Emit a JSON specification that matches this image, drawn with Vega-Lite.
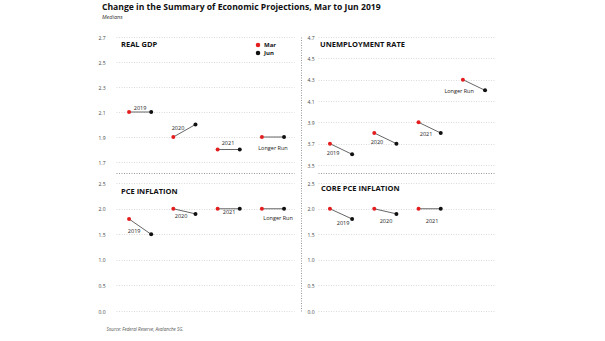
{
  "$schema": "https://vega.github.io/schema/vega-lite/v6.json",
  "padding": {"left": 97, "top": 2, "right": 5, "bottom": 5},
  "background": "white",
  "title": {
    "text": "Change in the Summary of Economic Projections, Mar to Jun 2019",
    "subtitle": "Medians",
    "anchor": "start",
    "frame": "bounds",
    "dx": 4,
    "fontSize": 8.6,
    "fontWeight": "bold",
    "color": "#111",
    "subtitleFontSize": 5.5,
    "subtitleFontStyle": "italic",
    "subtitleColor": "#333",
    "subtitlePadding": 3,
    "offset": 15
  },
  "datasets": {
    "points": [
      {"panel": "gdp", "year": "2019", "meeting": "Mar", "x": 1, "value": 2.1},
      {"panel": "gdp", "year": "2019", "meeting": "Jun", "x": 2, "value": 2.1},
      {"panel": "gdp", "year": "2020", "meeting": "Mar", "x": 3, "value": 1.9},
      {"panel": "gdp", "year": "2020", "meeting": "Jun", "x": 4, "value": 2.0},
      {"panel": "gdp", "year": "2021", "meeting": "Mar", "x": 5, "value": 1.8},
      {"panel": "gdp", "year": "2021", "meeting": "Jun", "x": 6, "value": 1.8},
      {"panel": "gdp", "year": "Longer Run", "meeting": "Mar", "x": 7, "value": 1.9},
      {"panel": "gdp", "year": "Longer Run", "meeting": "Jun", "x": 8, "value": 1.9},
      {"panel": "unemp", "year": "2019", "meeting": "Mar", "x": 1, "value": 3.7},
      {"panel": "unemp", "year": "2019", "meeting": "Jun", "x": 2, "value": 3.6},
      {"panel": "unemp", "year": "2020", "meeting": "Mar", "x": 3, "value": 3.8},
      {"panel": "unemp", "year": "2020", "meeting": "Jun", "x": 4, "value": 3.7},
      {"panel": "unemp", "year": "2021", "meeting": "Mar", "x": 5, "value": 3.9},
      {"panel": "unemp", "year": "2021", "meeting": "Jun", "x": 6, "value": 3.8},
      {"panel": "unemp", "year": "Longer Run", "meeting": "Mar", "x": 7, "value": 4.3},
      {"panel": "unemp", "year": "Longer Run", "meeting": "Jun", "x": 8, "value": 4.2},
      {"panel": "pce", "year": "2019", "meeting": "Mar", "x": 1, "value": 1.8},
      {"panel": "pce", "year": "2019", "meeting": "Jun", "x": 2, "value": 1.5},
      {"panel": "pce", "year": "2020", "meeting": "Mar", "x": 3, "value": 2.0},
      {"panel": "pce", "year": "2020", "meeting": "Jun", "x": 4, "value": 1.9},
      {"panel": "pce", "year": "2021", "meeting": "Mar", "x": 5, "value": 2.0},
      {"panel": "pce", "year": "2021", "meeting": "Jun", "x": 6, "value": 2.0},
      {"panel": "pce", "year": "Longer Run", "meeting": "Mar", "x": 7, "value": 2.0},
      {"panel": "pce", "year": "Longer Run", "meeting": "Jun", "x": 8, "value": 2.0},
      {"panel": "core", "year": "2019", "meeting": "Mar", "x": 1, "value": 2.0},
      {"panel": "core", "year": "2019", "meeting": "Jun", "x": 2, "value": 1.8},
      {"panel": "core", "year": "2020", "meeting": "Mar", "x": 3, "value": 2.0},
      {"panel": "core", "year": "2020", "meeting": "Jun", "x": 4, "value": 1.9},
      {"panel": "core", "year": "2021", "meeting": "Mar", "x": 5, "value": 2.0},
      {"panel": "core", "year": "2021", "meeting": "Jun", "x": 6, "value": 2.0}
    ],
    "labels": [
      {"panel": "gdp", "label": "2019", "x": 1.5, "value": 2.13},
      {"panel": "gdp", "label": "2020", "x": 3.21, "value": 1.97},
      {"panel": "gdp", "label": "2021", "x": 5.47, "value": 1.85},
      {"panel": "gdp", "label": "Longer Run", "x": 7.5, "value": 1.81},
      {"panel": "unemp", "label": "2019", "x": 1.14, "value": 3.61},
      {"panel": "unemp", "label": "2020", "x": 3.12, "value": 3.72},
      {"panel": "unemp", "label": "2021", "x": 5.34, "value": 3.79},
      {"panel": "unemp", "label": "Longer Run", "x": 6.83, "value": 4.19},
      {"panel": "pce", "label": "2019", "x": 1.23, "value": 1.57},
      {"panel": "pce", "label": "2020", "x": 3.35, "value": 1.86},
      {"panel": "pce", "label": "2021", "x": 5.52, "value": 1.94},
      {"panel": "pce", "label": "Longer Run", "x": 7.73, "value": 1.82},
      {"panel": "core", "label": "2019", "x": 1.59, "value": 1.72},
      {"panel": "core", "label": "2020", "x": 3.53, "value": 1.76},
      {"panel": "core", "label": "2021", "x": 5.61, "value": 1.76}
    ]
  },
  "columns": 2,
  "spacing": {"row": 0, "column": 7},
  "resolve": {"legend": {"color": "independent"}},
  "concat": [
    {
      "width": 178, "height": 136,
      "title": {"text": "REAL GDP", "anchor": "start", "frame": "group", "offset": -17, "dx": 5, "baseline": "middle", "fontSize": 7.5, "fontWeight": "bold", "color": "#111"},
      "encoding": {
        "x": {"field": "x", "type": "quantitative", "scale": {"domain": [0.41, 8.45], "nice": false, "zero": false},
              "axis": {"labels": false, "ticks": false, "grid": false, "domain": true, "domainDash": [1, 1.5], "domainColor": "#999", "title": null, "minExtent": 0}},
        "y": {"field": "value", "type": "quantitative", "scale": {"domain": [1.612, 2.7], "nice": false, "zero": false},
              "axis": {"values": [1.7, 1.9, 2.1, 2.3, 2.5, 2.7], "format": ".1f", "labelPadding": 11, "title": null, "domain": false, "ticks": false, "minExtent": 0}}
      },
      "layer": [
        {"data": {"name": "points"}, "transform": [{"filter": "datum.panel == 'gdp'"}],
         "mark": {"type": "line", "color": "#666", "strokeWidth": 1}, "encoding": {"detail": {"field": "year"}}},
        {"data": {"name": "points"}, "transform": [{"filter": "datum.panel == 'gdp'"}],
         "mark": {"type": "point", "filled": true, "size": 16, "opacity": 1},
         "encoding": {"color": {"field": "meeting", "type": "nominal", "scale": {"domain": ["Mar", "Jun"], "range": ["#e41e1e", "#111111"]},
                                "legend": {"orient": "none", "legendX": 139, "legendY": 5, "title": null, "labelFontSize": 6, "labelFontWeight": "bold", "labelColor": "#111", "symbolSize": 20, "symbolType": "circle", "rowPadding": 2, "labelOffset": 3, "symbolStrokeWidth": 0}}}},
        {"data": {"name": "labels"}, "transform": [{"filter": "datum.panel == 'gdp'"}],
         "mark": {"type": "text", "fontSize": 5.5, "color": "#222", "baseline": "middle", "align": "center"},
         "encoding": {"text": {"field": "label"}}}
      ]
    },
    {
      "width": 177, "height": 136,
      "title": {"text": "UNEMPLOYMENT RATE", "anchor": "start", "frame": "group", "offset": -17, "dx": 2, "baseline": "middle", "fontSize": 7.5, "fontWeight": "bold", "color": "#111"},
      "encoding": {
        "x": {"field": "x", "type": "quantitative", "scale": {"domain": [0.46, 8.45], "nice": false, "zero": false},
              "axis": {"labels": false, "ticks": false, "grid": false, "domain": true, "domainDash": [1, 1.5], "domainColor": "#999", "title": null, "minExtent": 0}},
        "y": {"field": "value", "type": "quantitative", "scale": {"domain": [3.425, 4.7], "nice": false, "zero": false},
              "axis": {"values": [3.5, 3.7, 3.9, 4.1, 4.3, 4.5, 4.7], "format": ".1f", "offset": 17, "labelAlign": "left", "labelPadding": -6, "tickSize": 0, "ticks": false, "domain": true, "domainDash": [1, 1.5], "domainColor": "#999", "title": null, "minExtent": 0}}
      },
      "layer": [
        {"data": {"name": "points"}, "transform": [{"filter": "datum.panel == 'unemp'"}],
         "mark": {"type": "line", "color": "#666", "strokeWidth": 1}, "encoding": {"detail": {"field": "year"}}},
        {"data": {"name": "points"}, "transform": [{"filter": "datum.panel == 'unemp'"}],
         "mark": {"type": "point", "filled": true, "size": 16, "opacity": 1},
         "encoding": {"color": {"field": "meeting", "type": "nominal", "scale": {"domain": ["Mar", "Jun"], "range": ["#e41e1e", "#111111"]}, "legend": null}}},
        {"data": {"name": "labels"}, "transform": [{"filter": "datum.panel == 'unemp'"}],
         "mark": {"type": "text", "fontSize": 5.5, "color": "#222", "baseline": "middle", "align": "center"},
         "encoding": {"text": {"field": "label"}}}
      ]
    },
    {
      "width": 178, "height": 138,
      "title": {"text": "PCE INFLATION", "anchor": "start", "frame": "group", "offset": -26, "dx": 5, "baseline": "middle", "fontSize": 7.5, "fontWeight": "bold", "color": "#111"},
      "encoding": {
        "x": {"field": "x", "type": "quantitative", "scale": {"domain": [0.41, 8.45], "nice": false, "zero": false},
              "axis": {"labels": false, "ticks": false, "grid": false, "domain": false, "minExtent": 0,
                       "title": "Source: Federal Reserve, Avalanche SG.", "titleX": -10, "titleY": 18, "titleAlign": "left", "titleAnchor": "start", "titleBaseline": "middle", "titleFontSize": 4.5, "titleFontStyle": "italic", "titleFontWeight": "normal", "titleColor": "#555"}},
        "y": {"field": "value", "type": "quantitative", "scale": {"domain": [0, 2.7], "nice": false, "zero": false},
              "axis": {"values": [0, 0.5, 1, 1.5, 2, 2.5], "format": ".1f", "labelPadding": 11, "title": null, "domain": false, "ticks": false, "minExtent": 0}}
      },
      "layer": [
        {"data": {"name": "points"}, "transform": [{"filter": "datum.panel == 'pce'"}],
         "mark": {"type": "line", "color": "#666", "strokeWidth": 1}, "encoding": {"detail": {"field": "year"}}},
        {"data": {"name": "points"}, "transform": [{"filter": "datum.panel == 'pce'"}],
         "mark": {"type": "point", "filled": true, "size": 16, "opacity": 1},
         "encoding": {"color": {"field": "meeting", "type": "nominal", "scale": {"domain": ["Mar", "Jun"], "range": ["#e41e1e", "#111111"]}, "legend": null}}},
        {"data": {"name": "labels"}, "transform": [{"filter": "datum.panel == 'pce'"}],
         "mark": {"type": "text", "fontSize": 5.5, "color": "#222", "baseline": "middle", "align": "center"},
         "encoding": {"text": {"field": "label"}}}
      ]
    },
    {
      "width": 177, "height": 138,
      "title": {"text": "CORE PCE INFLATION", "anchor": "start", "frame": "group", "offset": -23, "dx": 3, "baseline": "middle", "fontSize": 7.5, "fontWeight": "bold", "color": "#111"},
      "encoding": {
        "x": {"field": "x", "type": "quantitative", "scale": {"domain": [0.46, 8.45], "nice": false, "zero": false}, "axis": null},
        "y": {"field": "value", "type": "quantitative", "scale": {"domain": [0, 2.7], "nice": false, "zero": false},
              "axis": {"values": [0, 0.5, 1, 1.5, 2, 2.5], "format": ".1f", "offset": 17, "labelAlign": "left", "labelPadding": -6, "tickSize": 0, "ticks": false, "domain": true, "domainDash": [1, 1.5], "domainColor": "#999", "title": null, "minExtent": 0}}
      },
      "layer": [
        {"data": {"name": "points"}, "transform": [{"filter": "datum.panel == 'core'"}],
         "mark": {"type": "line", "color": "#666", "strokeWidth": 1}, "encoding": {"detail": {"field": "year"}}},
        {"data": {"name": "points"}, "transform": [{"filter": "datum.panel == 'core'"}],
         "mark": {"type": "point", "filled": true, "size": 16, "opacity": 1},
         "encoding": {"color": {"field": "meeting", "type": "nominal", "scale": {"domain": ["Mar", "Jun"], "range": ["#e41e1e", "#111111"]}, "legend": null}}},
        {"data": {"name": "labels"}, "transform": [{"filter": "datum.panel == 'core'"}],
         "mark": {"type": "text", "fontSize": 5.5, "color": "#222", "baseline": "middle", "align": "center"},
         "encoding": {"text": {"field": "label"}}}
      ]
    }
  ],
  "config": {
    "font": "Open Sans",
    "view": {"stroke": null},
    "axis": {"labelFontSize": 5, "labelColor": "#444", "gridColor": "#d0d0d0", "gridDash": [1, 1.5], "gridWidth": 0.8}
  }
}
